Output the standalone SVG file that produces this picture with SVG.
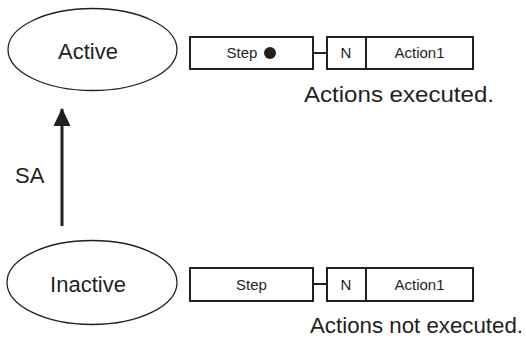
<svg xmlns="http://www.w3.org/2000/svg" width="526" height="338" viewBox="0 0 526 338">
<defs>
<style>
.ell{fill:#fff;stroke:#231f20;stroke-width:1.3}
.box{fill:#fff;stroke:#231f20;stroke-width:2}
.lbl{font-family:"Liberation Sans",Arial,sans-serif;fill:#231f20}
.big{font-size:22px}
.sm{font-size:15px}
.conn{stroke:#231f20;stroke-width:3;fill:none}
.link{stroke:#231f20;stroke-width:2;fill:none}
</style>
<marker id="arr" markerUnits="userSpaceOnUse" markerWidth="18" markerHeight="18" viewBox="0 0 18 18" refX="17" refY="9" orient="auto">
<path d="M0,0.5 L18,9 L0,17.5 Z" fill="#231f20"/>
</marker>
</defs>
<rect width="526" height="338" fill="#fff"/>
<g id="connectors">
<line class="conn" x1="62" y1="226" x2="62" y2="109" marker-end="url(#arr)"/>
<text class="lbl big" x="15" y="183">SA</text>
<line class="link" x1="313" y1="53" x2="327" y2="53"/>
<line class="link" x1="313" y1="284" x2="327" y2="284"/>
</g>
<g id="active">
<ellipse class="ell" cx="92.5" cy="49.5" rx="84.5" ry="41"/>
<text class="lbl big" x="88" y="59" text-anchor="middle">Active</text>
</g>
<g id="inactive">
<ellipse class="ell" cx="92" cy="282.5" rx="85" ry="42"/>
<text class="lbl big" x="88" y="292" text-anchor="middle">Inactive</text>
</g>
<g id="step-active">
<rect class="box" x="190" y="37" width="123" height="32"/>
<text class="lbl sm" x="242" y="58" text-anchor="middle">Step</text>
<circle cx="270" cy="53" r="6" fill="#231f20"/>
</g>
<g id="action-active">
<rect class="box" x="327" y="37" width="39" height="32"/>
<rect class="box" x="366" y="37" width="107" height="32"/>
<text class="lbl sm" x="346" y="58" text-anchor="middle">N</text>
<text class="lbl sm" x="419.5" y="58" text-anchor="middle">Action1</text>
<text class="lbl big" x="304" y="102" textLength="190" lengthAdjust="spacingAndGlyphs">Actions executed.</text>
</g>
<g id="step-inactive">
<rect class="box" x="190" y="268" width="123" height="33"/>
<text class="lbl sm" x="251.5" y="289.5" text-anchor="middle">Step</text>
</g>
<g id="action-inactive">
<rect class="box" x="327" y="268" width="39" height="33"/>
<rect class="box" x="366" y="268" width="107" height="33"/>
<text class="lbl sm" x="346" y="289.5" text-anchor="middle">N</text>
<text class="lbl sm" x="419.5" y="289.5" text-anchor="middle">Action1</text>
<text class="lbl big" x="310" y="333" textLength="213" lengthAdjust="spacingAndGlyphs">Actions not executed.</text>
</g>
</svg>
